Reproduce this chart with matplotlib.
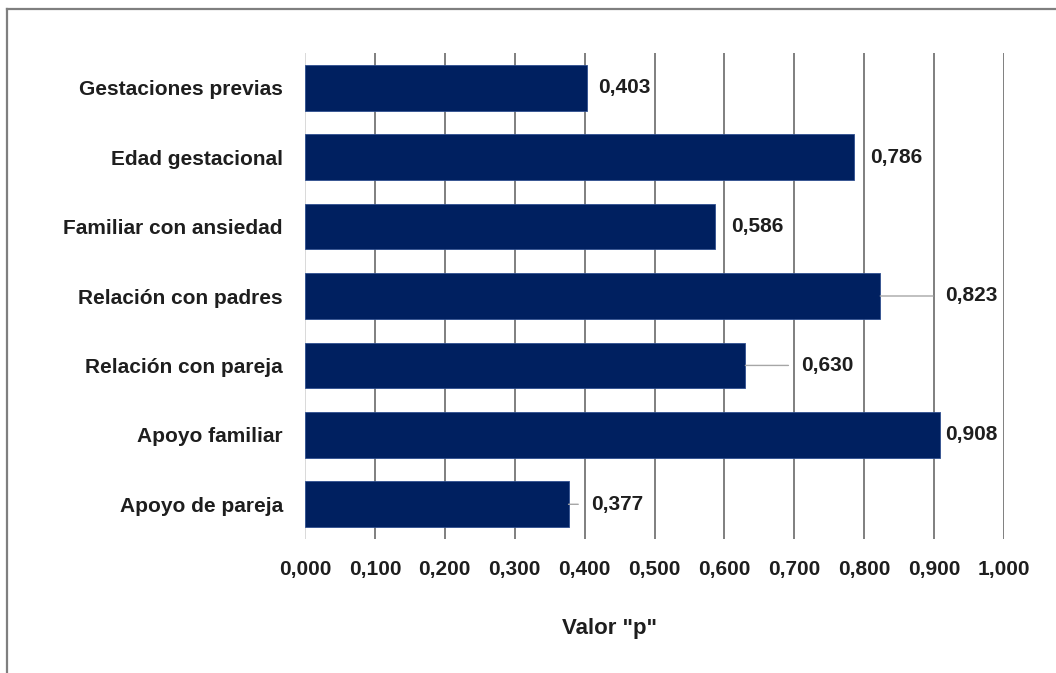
import matplotlib
matplotlib.use("Agg")
import matplotlib.pyplot as plt
from matplotlib.lines import Line2D

categories = [
    "Gestaciones previas",
    "Edad gestacional",
    "Familiar con ansiedad",
    "Relación con padres",
    "Relación con pareja",
    "Apoyo familiar",
    "Apoyo de pareja",
]
p_values = [0.403, 0.786, 0.586, 0.823, 0.630, 0.908, 0.377]
x_ticks = [0.0, 0.1, 0.2, 0.3, 0.4, 0.5, 0.6, 0.7, 0.8, 0.9, 1.0]
x_label = 'Valor "p"'

# label offset (points) from bar end, and whether a leader line is drawn
label_offsets = [8, 11, 12, 47, 40, 4, 16]
leaders = [False, False, False, True, True, False, True]

font = "Liberation Sans"
bar_color = "#002060"
grid_color = "#7f7f7f"
text_color = "#1e1e1e"

fig = plt.figure(figsize=(10.56, 6.73), dpi=100)
ax = fig.add_axes([305 / 1056, 1 - 539 / 673, 699 / 1056, 486 / 673])

n = len(categories)
ypos = list(range(n))[::-1]
ax.barh(ypos, p_values, height=0.66, color=bar_color, edgecolor="#2f4f8f",
        linewidth=0.6, zorder=3)

ax.set_xlim(0, 1.0)
ax.set_ylim(-0.5, n - 0.5)

# vertical gridlines
for t in x_ticks:
    ax.axvline(t, color="#d9d9d9" if t == 0 else grid_color, lw=1.4, zorder=1)

for s in ax.spines.values():
    s.set_visible(False)

ax.set_xticks(x_ticks)
ax.set_xticklabels([f"{t:.3f}".replace(".", ",") for t in x_ticks],
                   fontfamily=font, fontweight="bold", fontsize=15,
                   color=text_color)
ax.tick_params(axis="x", length=0, pad=15)
ax.set_yticks(ypos)
ax.set_yticklabels(categories, fontfamily=font, fontweight="bold",
                   fontsize=15, color=text_color)
ax.tick_params(axis="y", length=0, pad=16)

ax.set_xlabel(x_label, fontfamily=font, fontweight="bold", fontsize=16,
              color=text_color)
ax.xaxis.set_label_coords((610 - 305) / 699, -(618 - 539) / 486)

for y, v, off, lead in zip(ypos, p_values, label_offsets, leaders):
    ax.annotate(f"{v:.3f}".replace(".", ","), xy=(v, y),
                xytext=(off, 0), textcoords="offset points",
                ha="left", va="center", fontfamily=font,
                fontweight="bold", fontsize=15, color=text_color,
                zorder=5,
                arrowprops=dict(arrowstyle="-", color="#a6a6a6", lw=1.0,
                                shrinkA=7, shrinkB=0) if lead else None)

# outer frame (top and left edges visible)
fig.add_artist(Line2D([6.5 / 1056, 6.5 / 1056], [0, 1 - 8.5 / 673],
                      transform=fig.transFigure, color="#7f7f7f", lw=1.6))
fig.add_artist(Line2D([6.5 / 1056, 1], [1 - 8.5 / 673, 1 - 8.5 / 673],
                      transform=fig.transFigure, color="#7f7f7f", lw=1.6))

fig.savefig("out.png", dpi=100, facecolor="white")
